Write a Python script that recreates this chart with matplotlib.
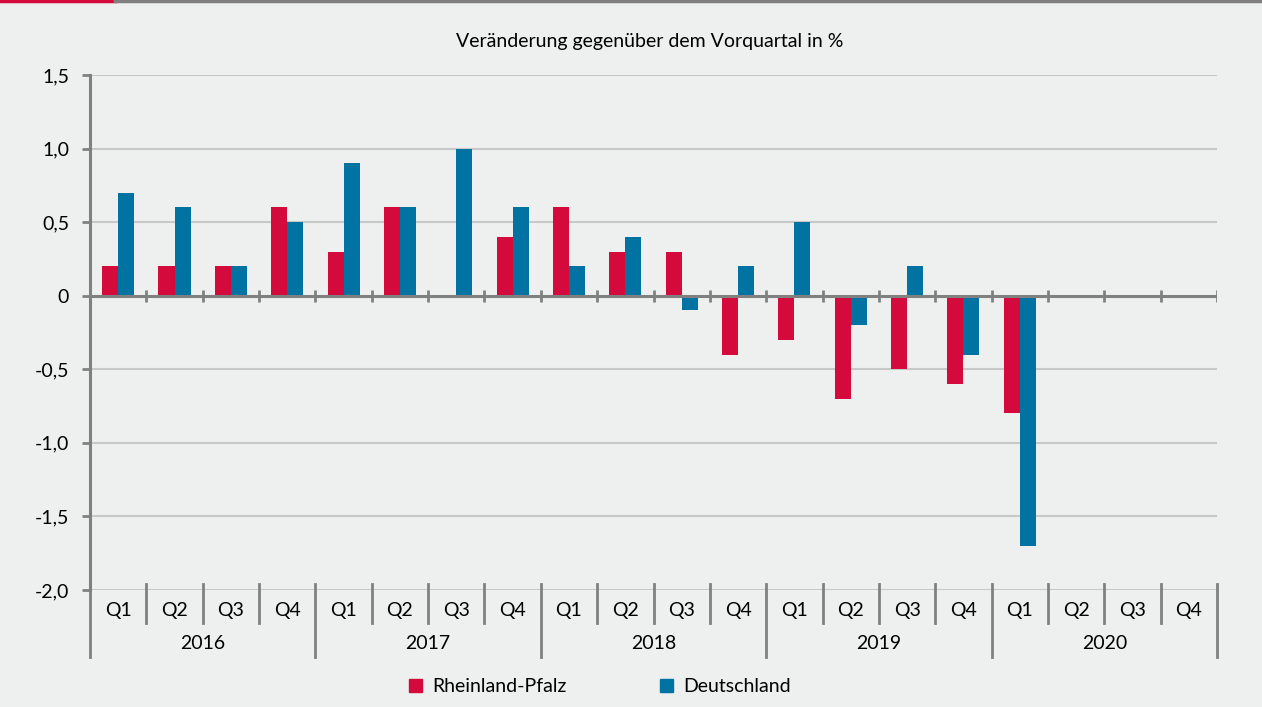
import numpy as np
import matplotlib
matplotlib.use("Agg")
from matplotlib import pyplot as plt
from matplotlib.patches import Patch
from matplotlib.lines import Line2D
import matplotlib.transforms as mtransforms

# Daten: Veraenderung gegenueber dem Vorquartal in %
jahre = ["2016", "2017", "2018", "2019", "2020"]
quartale = ["Q1", "Q2", "Q3", "Q4"]
rheinland_pfalz = [0.2, 0.2, 0.2, 0.6,
                   0.3, 0.6, 0.0, 0.4,
                   0.6, 0.3, 0.3, -0.4,
                   -0.3, -0.7, -0.5, -0.6,
                   -0.8, np.nan, np.nan, np.nan]
deutschland = [0.7, 0.6, 0.2, 0.5,
               0.9, 0.6, 1.0, 0.6,
               0.2, 0.4, -0.1, 0.2,
               0.5, -0.2, 0.2, -0.4,
               -1.7, np.nan, np.nan, np.nan]
y_ticks = [-2.0, -1.5, -1.0, -0.5, 0, 0.5, 1.0, 1.5]
y_labels = ["-2,0", "-1,5", "-1,0", "-0,5", "0", "0,5", "1,0", "1,5"]

rot = "#d50a3c"
blau = "#0073a3"
hintergrund = "#eeefef"
achse = "#808080"
gitter = "#c8c8c8"

plt.rcParams["font.family"] = ["Lato", "DejaVu Sans"]
plt.rcParams["font.size"] = 14

fig = plt.figure(figsize=(12.62, 7.07), dpi=100, facecolor=hintergrund)
ax = fig.add_axes([90 / 1262, 1 - 590 / 707, (1217 - 90) / 1262, (590 - 75) / 707])
ax.set_facecolor(hintergrund)

n = len(rheinland_pfalz)
x = np.arange(n)
w = 0.285
ax.bar(x - w / 2, rheinland_pfalz, width=w, color=rot, zorder=3)
ax.bar(x + w / 2, deutschland, width=w, color=blau, zorder=3)

ax.set_xlim(-0.5, n - 0.5)
ax.set_ylim(-2.0, 1.5)

# Gitterlinien
for yv in y_ticks:
    if yv != 0:
        ax.axhline(yv, color=gitter, lw=1.5, zorder=1)
# Nulllinie mit Trennstrichen
ax.axhline(0, color=achse, lw=2.2, zorder=4)
ax.vlines(np.arange(n + 1) - 0.5, -0.04, 0.04, color=achse, lw=2, zorder=4)

for s in ["top", "right", "bottom"]:
    ax.spines[s].set_visible(False)
ax.spines["left"].set_color(achse)
ax.spines["left"].set_linewidth(2.2)
ax.set_yticks(y_ticks)
ax.set_yticklabels(y_labels)
ax.tick_params(axis="y", length=6, width=2, color=achse, pad=9, labelsize=14)
ax.set_xticks([])

# Kategorienachse unten (Quartale und Jahre)
trans = mtransforms.blended_transform_factory(ax.transData, ax.transAxes)
for i in range(n + 1):
    b = i - 0.5
    if i % 4 == 0:
        y0 = -0.130
    else:
        y0 = -0.064
    ax.add_line(Line2D([b, b], [0.0117, y0], transform=trans, color=achse, lw=2, clip_on=False))
for i in range(n):
    ax.text(i, -0.039, quartale[i % 4], transform=trans, ha="center", va="center", fontsize=14)
for j, jahr in enumerate(jahre):
    ax.text(j * 4 + 1.5, -0.103, jahr, transform=trans, ha="center", va="center", fontsize=14)

fig.text(650 / 1262, 1 - 42 / 707, "Veränderung gegenüber dem Vorquartal in %",
         ha="center", va="center", fontsize=14)

# Linie oben
fig.add_artist(Line2D([0, 115 / 1262], [0.999, 0.999], color=rot, lw=2.5))
fig.add_artist(Line2D([115 / 1262, 1], [0.999, 0.999], color=achse, lw=2.5))

handles = [Patch(color=rot, label="Rheinland-Pfalz"), Patch(color=blau, label="Deutschland")]
fig.legend(handles=handles, loc="center", bbox_to_anchor=(600 / 1262, 1 - 687 / 707), ncol=2,
           frameon=False, handlelength=0.65, handleheight=0.65, handletextpad=0.55,
           columnspacing=4.8, fontsize=14)

fig.savefig("out.png", dpi=100, facecolor=hintergrund)
